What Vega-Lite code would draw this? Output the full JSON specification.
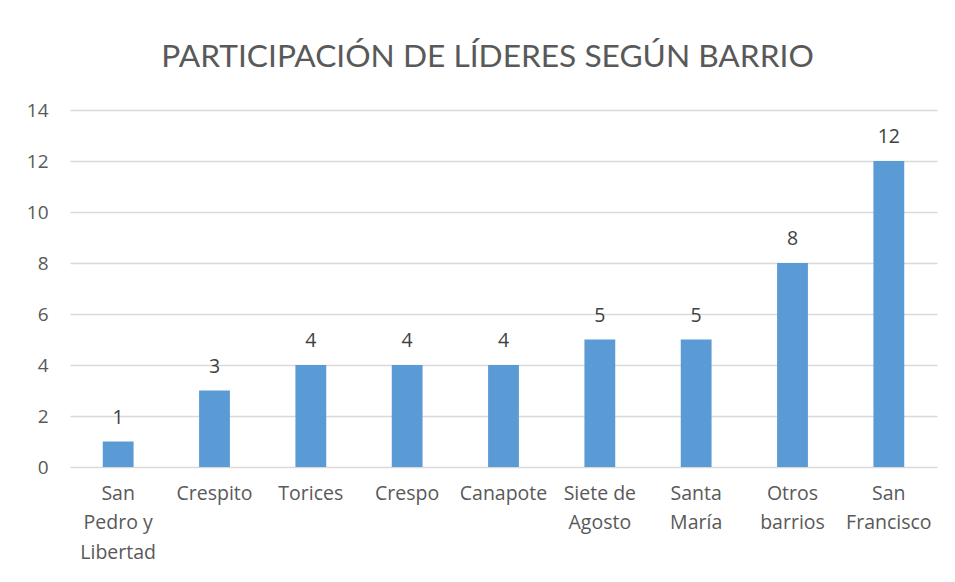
{
  "$schema": "https://vega.github.io/schema/vega-lite/v6.json",
  "width": 867,
  "height": 357,
  "autosize": "none",
  "padding": {"left": 70, "top": 110, "right": 18, "bottom": 115},
  "background": "white",
  "title": {
    "text": "PARTICIPACIÓN DE LÍDERES SEGÚN BARRIO",
    "font": "Lato",
    "fontSize": 31.7,
    "fontWeight": "normal",
    "color": "#595959",
    "anchor": "middle",
    "frame": "group",
    "dx": -16,
    "offset": 27
  },
  "data": {
    "values": [
      {"barrio": "San Pedro y Libertad", "lideres": 1},
      {"barrio": "Crespito", "lideres": 3},
      {"barrio": "Torices", "lideres": 4},
      {"barrio": "Crespo", "lideres": 4},
      {"barrio": "Canapote", "lideres": 4},
      {"barrio": "Siete de Agosto", "lideres": 5},
      {"barrio": "Santa María", "lideres": 5},
      {"barrio": "Otros barrios", "lideres": 8},
      {"barrio": "San Francisco", "lideres": 12}
    ]
  },
  "encoding": {
    "x": {
      "field": "barrio",
      "type": "nominal",
      "sort": null,
      "scale": {"paddingInner": 0.68, "paddingOuter": 0.34},
      "axis": {
        "title": null,
        "labelAngle": 0,
        "domain": false,
        "ticks": false,
        "labelFont": "Open Sans",
        "labelFontSize": 19.5,
        "labelColor": "#595959",
        "labelPadding": 17,
        "labelLineHeight": 29.5,
        "labelBaseline": "top",
        "labelLimit": 200,
        "labelExpr": "datum.value == 'San Pedro y Libertad' ? ['San', 'Pedro y', 'Libertad'] : datum.value == 'Siete de Agosto' ? ['Siete de', 'Agosto'] : datum.value == 'Santa María' ? ['Santa', 'María'] : datum.value == 'Otros barrios' ? ['Otros', 'barrios'] : datum.value == 'San Francisco' ? ['San', 'Francisco'] : datum.value"
      }
    },
    "y": {
      "field": "lideres",
      "type": "quantitative",
      "scale": {"domain": [0, 14]},
      "axis": {
        "title": null,
        "values": [0, 2, 4, 6, 8, 10, 12, 14],
        "domain": false,
        "ticks": false,
        "grid": true,
        "gridColor": "#d9d9d9",
        "gridWidth": 1.3,
        "labelFont": "Open Sans",
        "labelFontSize": 19,
        "labelColor": "#595959",
        "labelPadding": 22
      }
    }
  },
  "layer": [
    {"mark": {"type": "bar", "color": "#5b9bd5"}},
    {
      "mark": {
        "type": "text",
        "baseline": "bottom",
        "dy": -14,
        "font": "Open Sans",
        "fontSize": 19.5,
        "color": "#404040"
      },
      "encoding": {"text": {"field": "lideres", "type": "quantitative"}}
    }
  ],
  "config": {"view": {"stroke": null}}
}
